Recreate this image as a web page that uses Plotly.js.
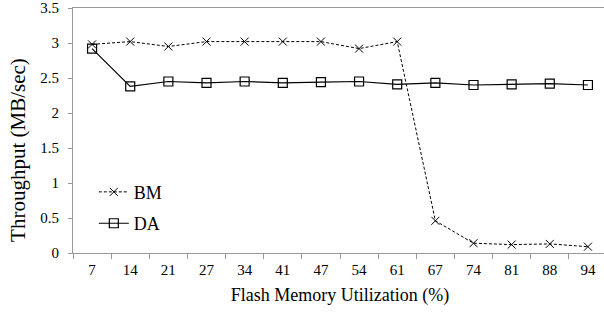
<!DOCTYPE html>
<html>
<head>
<meta charset="utf-8">
<script src="https://cdn.plot.ly/plotly-3.0.1.min.js"></script>
<style>html,body{margin:0;padding:0;overflow:hidden;background:#fff;}</style>
</head>
<body>
<div id="chart" style="width:608px;height:321px;"></div>
<script>
const categories = ["7","14","21","27","34","41","47","54","61","67","74","81","88","94"];
const bmValues = [2.98,3.02,2.95,3.02,3.02,3.02,3.02,2.92,3.02,0.46,0.14,0.12,0.13,0.09];
const daValues = [2.92,2.38,2.45,2.43,2.45,2.43,2.44,2.45,2.41,2.43,2.40,2.41,2.42,2.40];
const yTicks = [0,0.5,1,1.5,2,2.5,3,3.5];
const yTickLabels = ["0","0.5","1","1.5","2","2.5","3","3.5"];

const font = "Liberation Serif";

const traces = [
  {x: categories, y: bmValues, name: "BM", legendgroup: "g1", type: "scatter", mode: "lines+markers",
   xaxis: "x", yaxis: "y",
   line: {color: "#000", width: 1, dash: "3px,2px"},
   marker: {symbol: "x-thin-open", size: 8, color: "#000", line: {color: "#000", width: 1}}},
  {x: categories, y: daValues, name: "DA", legendgroup: "g2", type: "scatter", mode: "lines+markers",
   xaxis: "x", yaxis: "y",
   line: {color: "#000", width: 1.2},
   marker: {symbol: "square-open", size: 9, color: "#000", line: {color: "#000", width: 1.2}}},
  {x: [], y: [], xaxis: "x", yaxis: "y2", type: "scatter", mode: "markers",
   showlegend: false, hoverinfo: "skip"},
  {x: [], y: [], xaxis: "x2", yaxis: "y3", type: "scatter", mode: "markers",
   showlegend: false, hoverinfo: "skip"}
];

const layout = {
  width: 608, height: 321,
  margin: {l: 73, r: 1, t: 8, b: 62},
  paper_bgcolor: "#fff", plot_bgcolor: "rgba(0,0,0,0)",
  font: {family: font, size: 15, color: "#000"},
  showlegend: true,
  legend: {x: 0.039, y: 0.34, xanchor: "left", yanchor: "top", bgcolor: "rgba(0,0,0,0)",
           traceorder: "grouped", tracegroupgap: 5, itemwidth: 30,
           font: {family: font, size: 18, color: "#000"}},
  xaxis: {type: "category", categoryorder: "array", categoryarray: categories,
          range: [-0.5, 13.5], showgrid: false, zeroline: false,
          showline: true, linecolor: "#999", linewidth: 1, mirror: true,
          ticks: "outside", tickson: "boundaries", ticklen: 5, tickcolor: "#999",
          showticklabels: false},
  xaxis2: {type: "category", categoryorder: "array", categoryarray: categories,
          range: [-0.5, 13.5], domain: [0, 1], anchor: "y3", side: "bottom",
          showgrid: false, zeroline: false, showline: false,
          ticks: "", tickfont: {family: font, size: 15, color: "#000"},
          title: {text: "Flash Memory Utilization (%)", font: {family: font, size: 18, color: "#000"}, standoff: 11}},
  yaxis: {domain: [0.0239, 1], range: [0, 3.5], tickvals: yTicks, ticktext: yTickLabels,
          showgrid: false, zeroline: false, showline: true, linecolor: "#999", linewidth: 1,
          ticks: "outside", ticklen: 4, tickcolor: "#999", ticklabelstandoff: 6,
          tickfont: {family: font, size: 15, color: "#000"}},
  yaxis2: {domain: [0, 0.868], anchor: "free", position: 0, side: "left",
           range: [0, 1], showgrid: false, zeroline: false, showline: false,
           ticks: "", showticklabels: false,
           title: {text: "Throughput (MB/sec)", font: {family: font, size: 21, color: "#000"}, standoff: 40}},
  yaxis3: {domain: [0, 0.0239], anchor: "x2", range: [0, 1], visible: false}
};

Plotly.newPlot("chart", traces, layout, {displayModeBar: false, staticPlot: true});
</script>
</body>
</html>
